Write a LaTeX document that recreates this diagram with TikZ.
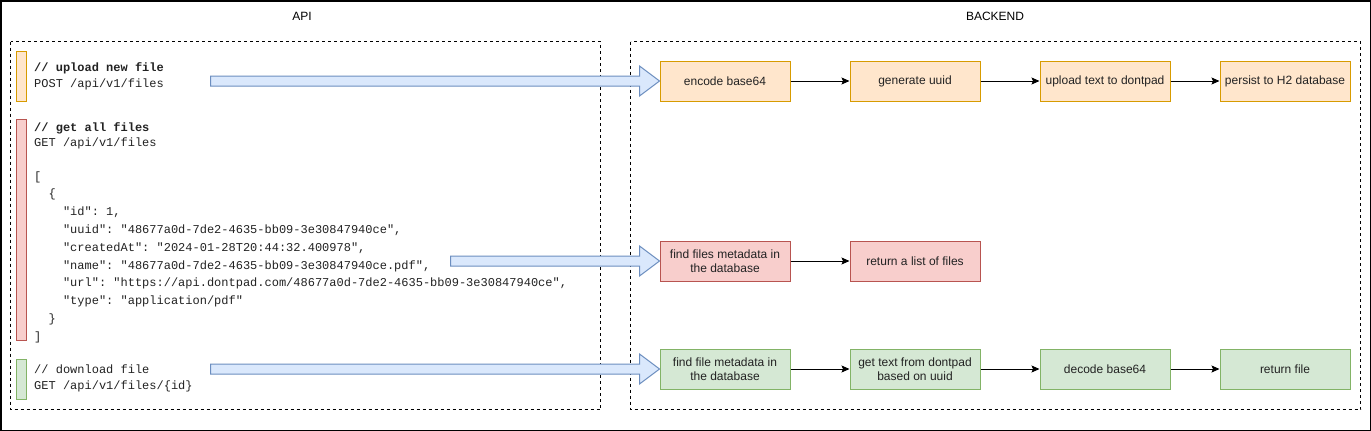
\documentclass[tikz,border=0pt]{standalone}
\usepackage{fontspec}
\setmainfont{Liberation Sans}
\setmonofont{Liberation Mono}
\usetikzlibrary{calc,arrows.meta}
\definecolor{orfill}{HTML}{FFE6CC}\definecolor{ordraw}{HTML}{D79B00}
\definecolor{rdfill}{HTML}{F8CECC}\definecolor{rddraw}{HTML}{B85450}
\definecolor{grfill}{HTML}{D5E8D4}\definecolor{grdraw}{HTML}{82B366}
\definecolor{blfill}{HTML}{DAE8FC}\definecolor{bldraw}{HTML}{6C8EBF}
\definecolor{txt}{HTML}{222222}
\begin{document}
\begin{tikzpicture}[x=1pt,y=-1pt,
  stepbox/.style={rectangle, minimum width=130pt, minimum height=40pt, inner sep=0pt,
    line width=1pt, align=center, text=txt,
    font=\fontsize{12pt}{14pt}\selectfont},
  orbox/.style={stepbox, fill=orfill, draw=ordraw},
  rdbox/.style={stepbox, fill=rdfill, draw=rddraw},
  grbox/.style={stepbox, fill=grfill, draw=grdraw},
  flow/.style={draw=black, line width=1pt, -{Stealth[length=8pt,width=7pt,inset=1.5pt]}},
  bigarr/.style={fill=blfill, draw=bldraw, line width=1pt, line join=miter},
  frame/.style={draw=black, line width=1pt, dash pattern=on 3pt off 3pt},
  code/.style={anchor=west, inner sep=0pt, text height=9pt, text depth=3pt, text=txt,
    font=\ttfamily\fontsize{12pt}{14pt}\selectfont},
  codeb/.style={code, font=\ttfamily\bfseries\fontsize{12pt}{14pt}\selectfont},
  hdr/.style={inner sep=0pt, text=black, font=\fontsize{12pt}{14pt}\selectfont},
  bar/.style={line width=1pt}
]
\useasboundingbox (0,0) rectangle (1371,431);
\draw[line width=1.5pt] (0.75,0.75) rectangle (1370.25,430.25);

% headers
\node[hdr] (api) at (302,16) {API};
\node[hdr] (backend) at (995,16) {BACKEND};

% dashed containers
\draw[frame] (10.5,41.5) rectangle (600.5,409.5);
\draw[frame] (630.5,41.5) rectangle (1360.5,409.5);

% colour bars
\draw[bar, fill=orfill, draw=ordraw] (16.5,51.5) rectangle (26.5,101.5);
\draw[bar, fill=rdfill, draw=rddraw] (16.5,119.5) rectangle (26.5,340.5);
\draw[bar, fill=grfill, draw=grdraw] (16.5,359.5) rectangle (26.5,399.5);

% code: upload
\node[codeb] (c1) at (34,68) {// upload new file};
\node[code]  (c2) at (34,84) {POST /api/v1/files};
% code: get all
\node[codeb] (g1) at (34,128) {// get all files};
\node[code]  (g2) at (34,143) {GET /api/v1/files};
\node[code]  (g3) at (34,177) {[};
\node[code]  (g4) at (48.4,194.8) {\{};
\node[code]  (g5) at (62.8,212.6) {"id": 1,};
\node[code]  (g6) at (62.8,230.4) {"uuid": "48677a0d-7de2-4635-bb09-3e30847940ce",};
\node[code]  (g7) at (62.8,248.2) {"createdAt": "2024-01-28T20:44:32.400978",};
\node[code]  (g8) at (62.8,266) {"name": "48677a0d-7de2-4635-bb09-3e30847940ce.pdf",};
\node[code]  (g9) at (62.8,283.8) {"url": "https://api.dontpad.com/48677a0d-7de2-4635-bb09-3e30847940ce",};
\node[code]  (g10) at (62.8,301.6) {"type": "application/pdf"};
\node[code]  (g11) at (48.4,319.4) {\}};
\node[code]  (g12) at (34,337.2) {]};
% code: download
\node[code]  (d1) at (34,370) {// download file};
\node[code]  (d2) at (34,386) {GET /api/v1/files/\{id\}};

% backend row 1
\node[orbox] (enc) at (725,81) {encode base64};
\node[orbox] (gen) at (915,81) {generate uuid};
\node[orbox] (upl) at (1105,81) {upload text to dontpad};
\node[orbox] (per) at (1285,81) {persist to H2 database};
% row 2
\node[rdbox] (fnd) at (725,261) {find files metadata in\\the database};
\node[rdbox] (ret) at (915,261) {return a list of files};
% row 3
\node[grbox] (fm) at (725,369) {find file metadata in\\the database};
\node[grbox] (gt) at (915,369) {get text from dontpad\\based on uuid};
\node[grbox] (dec) at (1105,369) {decode base64};
\node[grbox] (rf) at (1285,369) {return file};

\draw[flow] (enc) -- (gen);
\draw[flow] (gen) -- (upl);
\draw[flow] (upl) -- (per);
\draw[flow] (fnd) -- (ret);
\draw[flow] (fm) -- (gt);
\draw[flow] (gt) -- (dec);
\draw[flow] (dec) -- (rf);

% big arrows
\coordinate (s1) at (210.5,81);
\coordinate (s2) at (450.5,261);
\coordinate (s3) at (210.5,369);
\foreach \s/\t in {s1/enc, s2/fnd, s3/fm}{
  \path[bigarr] ($(\s)+(0,-5)$) -- ($(\t.west)+(-20,-5)$) -- ($(\t.west)+(-20,-15)$)
    -- (\t.west) -- ($(\t.west)+(-20,15)$) -- ($(\t.west)+(-20,5)$) -- ($(\s)+(0,5)$) -- cycle;
}
\end{tikzpicture}
\end{document}
